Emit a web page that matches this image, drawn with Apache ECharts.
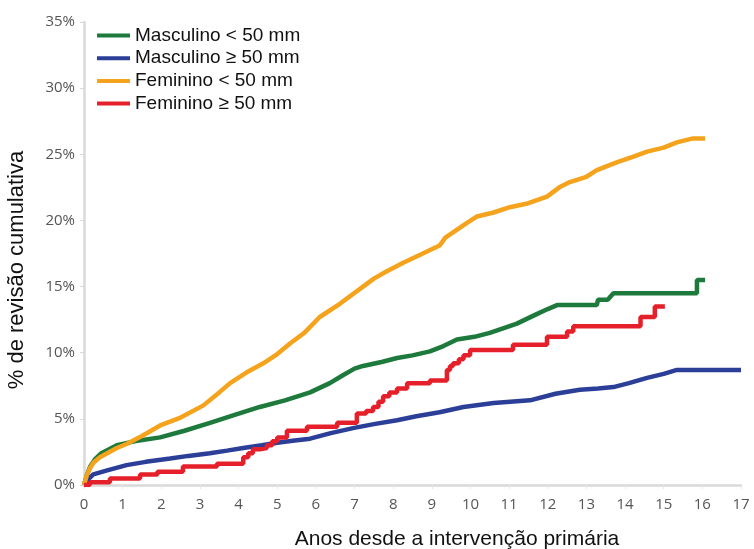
<!DOCTYPE html>
<html>
<head>
<meta charset="utf-8">
<script src="https://cdn.jsdelivr.net/npm/echarts@6/dist/echarts.min.js"></script>
<style>
  html, body { margin: 0; padding: 0; background: #fff; }
  #chart { width: 754px; height: 549px; }
</style>
</head>
<body>
<div id="chart"></div>
<script>
// nomes das séries (legenda)
var seriesNames = ['Masculino < 50 mm', 'Masculino \u2265 50 mm', 'Feminino < 50 mm', 'Feminino \u2265 50 mm'];

// [anos, % revisão]
var mascMenor = [[0,0],[0.08,0.8],[0.16,1.4],[0.3,2.0],[0.45,2.4],[0.85,3.0],[1.3,3.3],[1.97,3.6],[2.6,4.1],[3.26,4.7],[3.9,5.3],[4.55,5.9],[5.2,6.4],[5.85,7.0],[6.36,7.7],[6.7,8.3],[7.0,8.8],[7.22,9.0],[7.7,9.3],[8.1,9.6],[8.5,9.8],[8.95,10.1],[9.3,10.5],[9.65,11.0],[10.1,11.2],[10.5,11.5],[10.9,11.9],[11.2,12.2],[11.7,12.9],[12.0,13.3],[12.24,13.6],[13.27,13.6],[13.3,14.0],[13.55,14.0],[13.7,14.5],[15.86,14.5],[15.86,15.5],[16.07,15.5]];

var mascMaior = [[0,0],[0.1,0.4],[0.24,0.8],[0.6,1.1],[1.1,1.5],[1.6,1.75],[2.23,2.0],[2.7,2.2],[3.26,2.4],[3.7,2.6],[4.12,2.8],[4.6,3.0],[5.0,3.2],[5.4,3.35],[5.85,3.5],[6.36,3.9],[6.96,4.3],[7.5,4.6],[8.1,4.9],[8.6,5.2],[9.2,5.5],[9.82,5.9],[10.6,6.2],[11.54,6.4],[12.2,6.9],[12.83,7.2],[13.3,7.3],[13.7,7.4],[14.1,7.7],[14.57,8.1],[15.0,8.4],[15.34,8.7],[17,8.7]];

var femMenor = [[0,0],[0.08,0.8],[0.16,1.3],[0.25,1.7],[0.41,2.1],[0.6,2.4],[0.85,2.8],[1.1,3.1],[1.5,3.7],[1.97,4.5],[2.5,5.1],[3.08,6.0],[3.5,7.0],[3.78,7.7],[4.2,8.5],[4.64,9.2],[5.0,9.9],[5.33,10.7],[5.7,11.5],[6.1,12.7],[6.62,13.7],[7.22,15.0],[7.5,15.6],[7.8,16.1],[8.26,16.8],[8.7,17.4],[9.2,18.1],[9.35,18.7],[9.55,19.1],[9.9,19.8],[10.17,20.3],[10.6,20.6],[11.02,21.0],[11.5,21.3],[11.98,21.8],[12.3,22.5],[12.57,22.9],[13.0,23.3],[13.27,23.8],[13.8,24.4],[14.2,24.8],[14.57,25.2],[15.0,25.5],[15.34,25.9],[15.76,26.2],[16.07,26.2]];

// função em degraus (step: 'end')
var femMaior = [[0,0],[0.15,0.2],[0.67,0.5],[1.45,0.8],[1.9,1.0],[2.56,1.4],[3.44,1.6],[4.12,2.1],[4.25,2.4],[4.37,2.7],[4.55,2.8],[4.73,3.0],[4.87,3.3],[5.0,3.6],[5.25,4.1],[5.77,4.4],[6.55,4.7],[7.06,5.4],[7.3,5.6],[7.48,5.9],[7.62,6.3],[7.74,6.7],[7.9,7.0],[8.1,7.3],[8.36,7.7],[8.95,7.9],[9.39,8.7],[9.47,9.0],[9.55,9.2],[9.7,9.5],[9.82,9.8],[9.99,10.2],[11.1,10.6],[11.98,11.2],[12.5,11.6],[12.66,12.0],[14.4,12.7],[14.77,13.5],[15.03,13.5]];

var yTicks = ['0%','5%','10%','15%','20%','25%','30%','35%'];
var xTitle = 'Anos desde a intervenção primária';
var yTitle = '% de revisão cumulativa';

var colors = ['#1d7a3c', '#2c3f98', '#f5a31c', '#e6202a'];
var seriesData = [mascMenor, mascMaior, femMenor, femMaior];

var chart = echarts.init(document.getElementById('chart'));

chart.setOption({
    animation: false,
    color: colors,
    grid: { left: 84, right: 13, top: 22, bottom: 64, outerBoundsMode: 'none' },
    legend: {
        orient: 'vertical',
        left: 92,
        top: 21,
        icon: 'rect',
        itemWidth: 33,
        itemHeight: 4,
        itemGap: 3.7,
        textStyle: { fontFamily: 'Liberation Sans, Arial', fontSize: 19, color: '#111', lineHeight: 19 },
        data: seriesNames
    },
    graphic: [
        {
            type: 'text',
            x: 457,
            y: 539,
            style: {
                text: xTitle,
                fontFamily: 'Liberation Sans, Arial',
                fontSize: 21,
                fill: '#111',
                align: 'center',
                verticalAlign: 'middle'
            }
        },
        {
            type: 'text',
            x: 17,
            y: 270,
            rotation: Math.PI / 2,
            style: {
                text: yTitle,
                fontFamily: 'Liberation Sans, Arial',
                fontSize: 22,
                fill: '#111',
                align: 'center',
                verticalAlign: 'middle'
            }
        }
    ],
    xAxis: {
        type: 'value',
        min: 0,
        max: 17,
        interval: 1,
        axisLine: { lineStyle: { color: '#d9d9d9', width: 2.5 } },
        axisTick: { show: true, length: 4, lineStyle: { color: '#e6e6e6' } },
        axisLabel: { margin: 12, fontFamily: 'Open Sans', fontSize: 15, color: '#555' },
        splitLine: { show: false }
    },
    yAxis: {
        type: 'value',
        min: 0,
        max: 35,
        interval: 5,
        axisLine: { show: true, lineStyle: { color: '#d9d9d9', width: 2.5 } },
        axisTick: { show: true, length: 4, lineStyle: { color: '#d9d9d9' } },
        axisLabel: {
            margin: 9,
            fontFamily: 'Open Sans',
            fontSize: 15,
            color: '#555',
            formatter: function(v) { return yTicks[v / 5]; }
        },
        splitLine: { show: false }
    },
    series: seriesNames.map(function(name, i) {
        return {
            name: name,
            type: 'line',
            data: seriesData[i],
            step: i === 3 ? 'end' : false,
            symbol: 'none',
            z: i === 3 ? 5 : 3,
            lineStyle: { width: 4.5, color: colors[i] }
        };
    })
});
</script>
</body>
</html>
